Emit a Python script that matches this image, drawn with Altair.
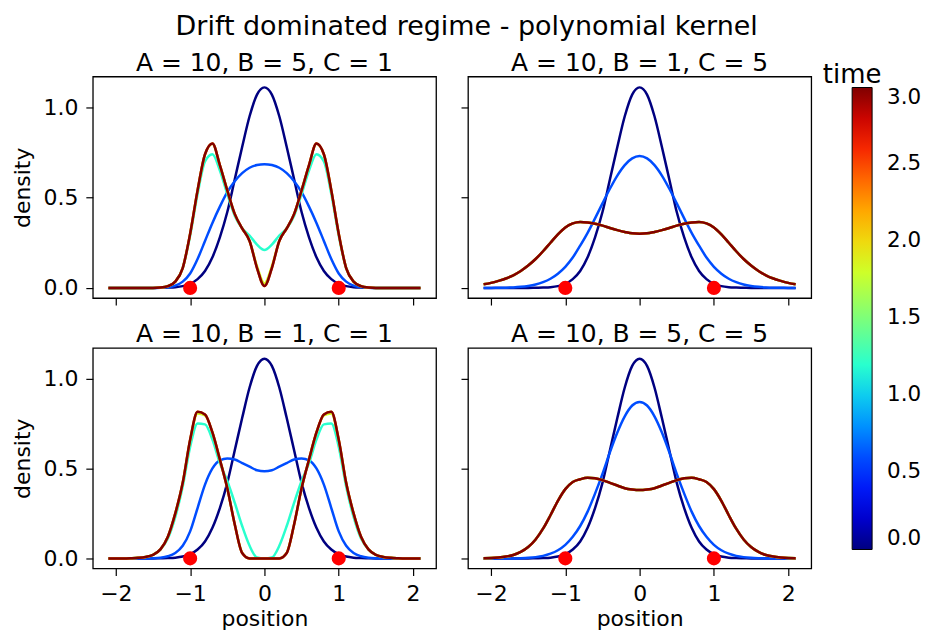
import altair as alt
import pandas as pd

# ---------------- data ----------------
X = [-2.1, -2.0, -1.9, -1.8, -1.7, -1.6, -1.5, -1.4, -1.3, -1.2, -1.1,
     -1.0, -0.9, -0.8, -0.7, -0.6, -0.5, -0.4, -0.3, -0.2, -0.1, 0.0,
     0.1, 0.2, 0.3, 0.4, 0.5, 0.6, 0.7, 0.8, 0.9, 1.0, 1.1,
     1.2, 1.3, 1.4, 1.5, 1.6, 1.7, 1.8, 1.9, 2.0, 2.1]

TIMES = [0.0, 0.6, 1.2, 1.8, 2.4, 3.0]

PANEL_TITLES = ["A = 10, B = 5, C = 1", "A = 10, B = 1, C = 5",
                "A = 10, B = 1, C = 1", "A = 10, B = 5, C = 5"]

ATTRACTOR_X = [-1.0, 1.0]
ATTRACTOR_Y = [0.0, 0.0]

# initial density (same in every panel)
T0 = [0, 0, 0, 0, 0, 0, 0, 0.001, 0.002, 0.004, 0.010, 0.023, 0.049, 0.094, 0.17,
      0.28, 0.42, 0.60, 0.78, 0.95, 1.07, 1.11, 1.07, 0.95, 0.78, 0.60, 0.42, 0.28,
      0.17, 0.094, 0.049, 0.023, 0.010, 0.004, 0.002, 0.001, 0, 0, 0, 0, 0, 0, 0]

# panel 1: A=10, B=5, C=1
P1_T06 = [0, 0, 0, 0, 0, 0, 0, 0.001, 0.004, 0.013, 0.035, 0.08, 0.16, 0.26, 0.36,
          0.45, 0.53, 0.59, 0.635, 0.665, 0.68, 0.685, 0.68, 0.665, 0.635, 0.59, 0.53,
          0.45, 0.36, 0.26, 0.16, 0.08, 0.035, 0.013, 0.004, 0.001, 0, 0, 0, 0, 0, 0, 0]
P1_T12 = [0, 0, 0, 0, 0, 0, 0, 0.002, 0.01, 0.035, 0.11, 0.29, 0.52, 0.70, 0.74,
          0.65, 0.52, 0.40, 0.33, 0.29, 0.24, 0.21, 0.24, 0.29, 0.33, 0.40, 0.52,
          0.65, 0.74, 0.70, 0.52, 0.29, 0.11, 0.035, 0.01, 0.002, 0, 0, 0, 0, 0, 0, 0]
P1_T18 = [0, 0, 0, 0, 0, 0, 0, 0.002, 0.01, 0.035, 0.11, 0.30, 0.54, 0.738, 0.798,
          0.68, 0.54, 0.41, 0.33, 0.26, 0.12, 0.025, 0.12, 0.26, 0.33, 0.41, 0.54,
          0.68, 0.798, 0.738, 0.54, 0.30, 0.11, 0.035, 0.01, 0.002, 0, 0, 0, 0, 0, 0, 0]
P1_T30 = [0, 0, 0, 0, 0, 0, 0, 0.002, 0.01, 0.035, 0.11, 0.30, 0.54, 0.74, 0.80,
          0.68, 0.54, 0.41, 0.33, 0.26, 0.11, 0.01, 0.11, 0.26, 0.33, 0.41, 0.54,
          0.68, 0.80, 0.74, 0.54, 0.30, 0.11, 0.035, 0.01, 0.002, 0, 0, 0, 0, 0, 0, 0]

# panel 2: A=10, B=1, C=5
P2_T06 = [0, 0, 0.001, 0.0015, 0.003, 0.006, 0.011, 0.019, 0.032, 0.051, 0.079, 0.117,
          0.168, 0.234, 0.305, 0.385, 0.468, 0.549, 0.622, 0.68, 0.717, 0.73, 0.717,
          0.68, 0.622, 0.549, 0.468, 0.385, 0.305, 0.234, 0.168, 0.117, 0.079, 0.051,
          0.032, 0.019, 0.011, 0.006, 0.003, 0.0015, 0.001, 0, 0]
P2_T30 = [0.02, 0.028, 0.039, 0.052, 0.07, 0.094, 0.124, 0.16, 0.203, 0.25, 0.297,
          0.335, 0.357, 0.365, 0.362, 0.355, 0.345, 0.332, 0.32, 0.31, 0.302, 0.30,
          0.302, 0.31, 0.32, 0.332, 0.345, 0.355, 0.362, 0.365, 0.357, 0.335, 0.297,
          0.25, 0.203, 0.16, 0.124, 0.094, 0.07, 0.052, 0.039, 0.028, 0.02]

# panel 3: A=10, B=1, C=1
P3_T06 = [0, 0, 0, 0, 0, 0, 0.001, 0.004, 0.012, 0.03, 0.07, 0.15, 0.28, 0.41, 0.50,
          0.545, 0.555, 0.55, 0.53, 0.51, 0.49, 0.485, 0.49, 0.51, 0.53, 0.55, 0.555,
          0.545, 0.50, 0.41, 0.28, 0.15, 0.07, 0.03, 0.012, 0.004, 0.001, 0, 0, 0, 0, 0, 0]
P3_T12 = [0, 0, 0, 0.001, 0.003, 0.008, 0.02, 0.05, 0.11, 0.23, 0.40, 0.62, 0.75,
          0.745, 0.66, 0.53, 0.43, 0.31, 0.18, 0.07, 0.005, 0, 0.005, 0.07, 0.18,
          0.31, 0.43, 0.53, 0.66, 0.745, 0.75, 0.62, 0.40, 0.23, 0.11, 0.05, 0.02,
          0.008, 0.003, 0.001, 0, 0, 0]
P3_T18 = [0, 0, 0, 0.001, 0.003, 0.008, 0.02, 0.05, 0.12, 0.25, 0.42, 0.658, 0.805,
          0.795, 0.70, 0.55, 0.39, 0.19, 0.032, 0, 0, 0, 0, 0, 0.032, 0.19, 0.39,
          0.55, 0.70, 0.795, 0.805, 0.658, 0.42, 0.25, 0.12, 0.05, 0.02, 0.008, 0.003,
          0.001, 0, 0, 0]
P3_T30 = [0, 0, 0, 0.001, 0.003, 0.008, 0.02, 0.05, 0.12, 0.25, 0.42, 0.66, 0.815,
          0.80, 0.70, 0.55, 0.39, 0.19, 0.03, 0, 0, 0, 0, 0, 0.03, 0.19, 0.39, 0.55,
          0.70, 0.80, 0.815, 0.66, 0.42, 0.25, 0.12, 0.05, 0.02, 0.008, 0.003, 0.001,
          0, 0, 0]

# panel 4: A=10, B=5, C=5
P4_T06 = [0, 0, 0, 0, 0, 0.001, 0.003, 0.007, 0.014, 0.026, 0.045, 0.075, 0.12, 0.18,
          0.26, 0.36, 0.47, 0.59, 0.70, 0.79, 0.85, 0.87, 0.85, 0.79, 0.70, 0.59, 0.47,
          0.36, 0.26, 0.18, 0.12, 0.075, 0.045, 0.026, 0.014, 0.007, 0.003, 0.001,
          0, 0, 0, 0, 0]
P4_T30 = [0.001, 0.002, 0.005, 0.01, 0.019, 0.036, 0.063, 0.105, 0.165, 0.24, 0.32,
          0.385, 0.425, 0.44, 0.448, 0.445, 0.435, 0.42, 0.405, 0.39, 0.383, 0.38,
          0.383, 0.39, 0.405, 0.42, 0.435, 0.445, 0.448, 0.44, 0.425, 0.385, 0.32,
          0.24, 0.165, 0.105, 0.063, 0.036, 0.019, 0.01, 0.005, 0.002, 0.001]

PANEL_CURVES = [
    [T0, P1_T06, P1_T12, P1_T18, P1_T30, P1_T30],
    [T0, P2_T06, P2_T30, P2_T30, P2_T30, P2_T30],
    [T0, P3_T06, P3_T12, P3_T18, P3_T30, P3_T30],
    [T0, P4_T06, P4_T30, P4_T30, P4_T30, P4_T30],
]

# jet colormap stops for the time colour scale (0 .. 3)
JET_STOPS = [0.0, 0.3, 0.6, 0.9, 1.2, 1.5, 1.8, 2.1, 2.4, 2.7, 3.0]
JET_COLORS = ["#000080", "#0000f3", "#004dff", "#00b3ff", "#29ffce", "#7dff7a",
              "#ceff29", "#ffc600", "#ff6800", "#f10800", "#800000"]
LEGEND_VALUES = [0.0, 0.5, 1.0, 1.5, 2.0, 2.5, 3.0]

# ---------------- chart ----------------
FONT = "DejaVu Sans"
PW = 344
GAP = 22
H_TOP, H_BOT = 222, 221
VSPACE = 14

rows = []
for p, curves in enumerate(PANEL_CURVES):
    for t, ys in zip(TIMES, curves):
        for xv, yv in zip(X, ys):
            rows.append({"panel": p, "time": t, "x": xv, "density": yv})
df = pd.DataFrame(rows).sort_values(["panel", "time"], kind="stable")
pts = pd.DataFrame({"x": ATTRACTOR_X, "y": ATTRACTOR_Y})

GRAD_TOP = 11
GRAD_BOTTOM = H_TOP + 7 + VSPACE + 26 + H_BOT - 16

color_scale = alt.Scale(domain=JET_STOPS, range=JET_COLORS, interpolate="rgb")
color_legend = alt.Legend(
    title="time", orient="none",
    # the centred title pushes the bar right by half its width (~29 px)
    legendX=PW + 7 + GAP + PW + 44 - 29, legendY=GRAD_TOP - 26, offset=0,
    direction="vertical", type="gradient",
    gradientLength=GRAD_BOTTOM - GRAD_TOP, gradientThickness=20,
    gradientStrokeColor="black", gradientStrokeWidth=1,
    values=LEGEND_VALUES, format=".1f",
    labelFont=FONT, labelFontSize=21.5, labelColor="black", labelOffset=15,
    labelBaseline="middle",
    titleFont=FONT, titleFontSize=26, titleFontWeight="normal", titleColor="black",
    titleAlign="center", titleAnchor="start", titlePadding=0,
    padding=0, labelOverlap=False,
)


def panel(p, show_x, show_y, height):
    d = df[df.panel == p]
    xs = alt.Scale(domain=[-2.31, 2.31], nice=False, zero=False)
    ys = alt.Scale(domain=[-0.056, 1.17], nice=False, zero=False)
    xa = alt.Axis(values=[-2, -1, 0, 1, 2], labels=show_x,
                  title="position" if show_x else None, format="d")
    ya = alt.Axis(values=[0, 0.5, 1.0], labels=show_y,
                  title="density" if show_y else None, format=".1f")
    lines = alt.Chart(d).mark_line(strokeWidth=2.5, interpolate="monotone").encode(
        x=alt.X("x:Q", scale=xs, axis=xa),
        y=alt.Y("density:Q", scale=ys, axis=ya),
        color=alt.Color("time:Q", scale=color_scale, legend=color_legend),
        detail="time:Q",
        order="time:Q",
    )
    dots = alt.Chart(pts).mark_circle(color="#ff0000", size=200, opacity=1).encode(
        x=alt.X("x:Q", scale=xs),
        y=alt.Y("y:Q", scale=ys),
    )
    return alt.layer(lines, dots).properties(
        width=PW, height=height,
        title=alt.TitleParams(PANEL_TITLES[p], fontSize=25, font=FONT,
                              fontWeight="normal", color="black", offset=1),
    )


top = alt.hconcat(panel(0, False, True, H_TOP), panel(1, False, False, H_TOP), spacing=GAP)
bottom = alt.hconcat(panel(2, True, True, H_BOT), panel(3, True, False, H_BOT), spacing=GAP)

chart = alt.vconcat(top, bottom, spacing=VSPACE).properties(
    title=alt.TitleParams("Drift dominated regime - polynomial kernel", fontSize=27,
                          font=FONT, fontWeight="normal", color="black",
                          anchor="middle", frame="bounds", offset=9),
    padding={"left": 3, "top": 4, "right": 0, "bottom": 0},
).configure_axis(
    labelFont=FONT, labelFontSize=22, labelColor="black",
    titleFont=FONT, titleFontSize=22, titleFontWeight="normal", titleColor="black",
    tickSize=7, tickColor="black", tickWidth=1.2,
    domain=False, grid=False,
).configure_axisX(
    labelPadding=8, titlePadding=4,
).configure_axisY(
    labelPadding=8, titlePadding=8,
).configure_view(
    stroke="black", strokeWidth=1.3,
)

chart.save("out.html", embed_options={"renderer": "svg", "actions": False})
